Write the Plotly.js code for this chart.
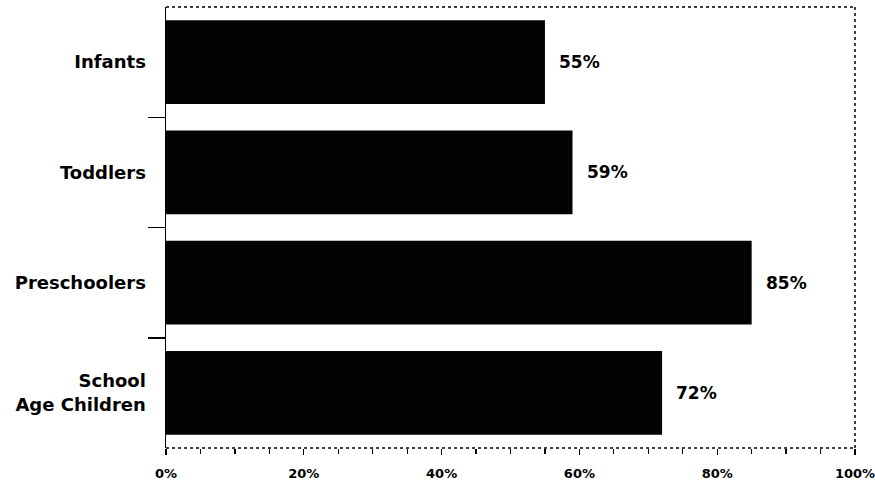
<!DOCTYPE html>
<html>
<head>
<meta charset="utf-8">
<script src="https://cdn.plot.ly/plotly-3.0.1.min.js"></script>
<style>
  html, body { margin: 0; padding: 0; background: #fff; }
  #chart { width: 875px; height: 483px; }
</style>
</head>
<body>
<div id="chart"></div>
<script>
const categories = ["Infants", "Toddlers", "Preschoolers", "School<br>Age Children"];
const percentValues = [55, 59, 85, 72];
const xTickValues = [0, 20, 40, 60, 80, 100];
const xTickLabels = ["0%", "20%", "40%", "60%", "80%", "100%"];
const boundaryTicks = [0.5, 1.5, 2.5];

const valueFont = { family: "DejaVu Sans", size: 17, color: "#000", weight: "bold" };
const categoryFont = { family: "DejaVu Sans", size: 18, color: "#000", weight: "bold" };

const trace = {
  type: "bar",
  orientation: "h",
  x: percentValues,
  y: categories,
  marker: { color: "#030303", line: { width: 0 } },
  hoverinfo: "skip"
};

const annotations = percentValues.map((v, i) => ({
  x: v,
  y: categories[i],
  xref: "x",
  yref: "y",
  text: v + "%",
  showarrow: false,
  xanchor: "left",
  yanchor: "middle",
  xshift: 12,
  font: valueFont
}));

const shapes = [
  { type: "line", xref: "paper", yref: "paper", x0: 0, x1: 1, y0: 1, y1: 1,
    line: { color: "#000", width: 1.5, dash: "dot" } },
  { type: "line", xref: "paper", yref: "paper", x0: 1, x1: 1, y0: 0, y1: 1,
    line: { color: "#000", width: 1.5, dash: "dot" } },
  { type: "line", xref: "paper", yref: "paper", x0: 0, x1: 1, y0: 0, y1: 0,
    line: { color: "#000", width: 1.5, dash: "dot" } }
];

const layout = {
  width: 875,
  height: 483,
  margin: { l: 166, r: 20, t: 7, b: 35 },
  paper_bgcolor: "#fff",
  plot_bgcolor: "#fff",
  showlegend: false,
  bargap: 0.24,
  xaxis: {
    range: [0, 100],
    tickvals: xTickValues,
    ticktext: xTickLabels,
    ticks: "outside",
    ticklen: 6,
    tickwidth: 1.3,
    tickcolor: "#000",
    minor: { dtick: 5, ticks: "outside", ticklen: 5, tickwidth: 1.2, tickcolor: "#000" },
    showgrid: false,
    zeroline: false,
    showline: false,
    ticklabelstandoff: 7,
    ticklabeloverflow: "allow",
    automargin: false,
    tickfont: { family: "DejaVu Sans", size: 13, color: "#000", weight: "bold" },
    fixedrange: true
  },
  yaxis: {
    type: "category",
    autorange: "reversed",
    ticks: "",
    showline: true,
    linecolor: "#000",
    linewidth: 1.5,
    showgrid: false,
    zeroline: false,
    ticklabelstandoff: 15,
    tickfont: categoryFont,
    fixedrange: true
  },
  yaxis2: {
    overlaying: "y",
    side: "left",
    range: [3.5, -0.5],
    tickvals: boundaryTicks,
    ticks: "outside",
    ticklen: 17,
    tickwidth: 1.5,
    tickcolor: "#000",
    showticklabels: false,
    showline: false,
    showgrid: false,
    zeroline: false,
    fixedrange: true
  },
  annotations: annotations,
  shapes: shapes
};

const tickTrace = {
  type: "scatter",
  mode: "markers",
  x: [],
  y: [],
  yaxis: "y2",
  hoverinfo: "skip",
  showlegend: false
};

Plotly.newPlot("chart", [trace, tickTrace], layout, { displayModeBar: false, staticPlot: true });
</script>
</body>
</html>
